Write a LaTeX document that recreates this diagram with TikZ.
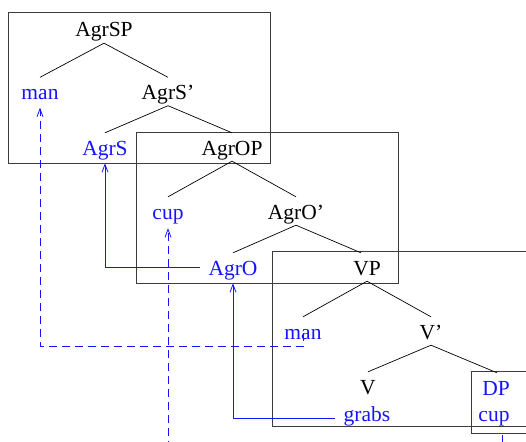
\documentclass[tikz,border=0pt]{standalone}
\usepackage{fontspec}
\setmainfont{Liberation Serif}
\usepackage{xcolor}
\usepackage{tikz}
\usetikzlibrary{arrows.meta,calc}
\definecolor{traceblue}{RGB}{20,20,255}
\definecolor{framegray}{RGB}{60,60,60}
\newcommand{\treefont}{\fontsize{21.5}{26}\selectfont}

\begin{document}
\begin{tikzpicture}[
  x=1pt,y=-1pt,
  cat/.style={inner sep=0pt,anchor=base,text height=22pt,text depth=6pt,
              font=\treefont},
  moved/.style={cat,text=traceblue},
  branch/.style={draw=black,line width=0.7pt},
  frame/.style={draw=framegray,line width=0.9pt},
  trace/.style={draw=traceblue,line width=0.8pt,
                -{Straight Barb[length=8pt,width=6pt]}},
  ghost/.style={trace,dash pattern=on 8pt off 5pt},
]

\useasboundingbox (0,0) rectangle (526,441);
\clip (0,0) rectangle (526,441);

%% ── Frames ──────────────────────────────────────────────────────────────
\draw[frame] (8,12)    rectangle (270,163);
\draw[frame] (136,132) rectangle (398,283);
\draw[frame] (272,251) rectangle (560,426.5);
\draw[frame] (471,371) rectangle (560,433.5);

%% ── AgrSP ───────────────────────────────────────────────────────────────
\node[cat]   (AgrSP)  at (104,37)   {AgrSP};
\node[moved] (manS)   at (40,99.5)  {man};
\node[cat]   (AgrSb)  at (168,99.5) {AgrS'};
\node[moved] (AgrS)   at (105,155)  {AgrS};

%% ── AgrOP ───────────────────────────────────────────────────────────────
\node[cat]   (AgrOP)  at (232,155)  {AgrOP};
\node[moved] (cupO)   at (168,219)  {cup};
\node[cat]   (AgrOb)  at (296,219)  {AgrO'};
\node[moved] (AgrO)   at (233,275)  {AgrO};

%% ── VP ──────────────────────────────────────────────────────────────────
\node[cat]   (VP)     at (367,275)  {VP};
\node[moved] (manV)   at (303,339)  {man};
\node[cat]   (Vb)     at (431,339)  {V'};
\node[cat]   (V)      at (368,394)  {V};
\node[moved] (DP)     at (496,395)  {DP};
\node[moved] (grabs)  at (367,421)  {grabs};
\node[moved] (cupV)   at (494,421)  {cup};

%% ── Branches ────────────────────────────────────────────────────────────
\draw[branch] (manS.north) -- (AgrSP.south) -- (AgrSb.north);
\draw[branch] (AgrS.north) -- (AgrSb.south) -- (AgrOP.north);
\draw[branch] (cupO.north) -- (AgrOP.south) -- (AgrOb.north);
\draw[branch] (AgrO.north) -- (AgrOb.south) -- ([xshift=-6pt]VP.north);
\draw[branch] (manV.north) -- (VP.south)    -- (Vb.north);
\draw[branch] (V.north)    -- (Vb.south)    -- ([xshift=1pt]DP.north);

%% ── Movement traces ─────────────────────────────────────────────────────
\coordinate (manturn) at (40,346.5);
\coordinate (cupturn) at (168,470);

\draw[ghost] ([yshift=6pt]manV.base) |- (manturn)
  -- ([yshift=-2pt]manS.south);

\draw[trace] ([xshift=-8pt]AgrO.west) -| ([yshift=-2pt]AgrS.south);

\draw[trace] ([xshift=-9pt,yshift=-5pt]grabs.west)
  -| ([yshift=-2pt]AgrO.south);

\draw[ghost] ([xshift=8pt,yshift=-8pt]cupV.south) |- (cupturn)
  -- ([yshift=-3pt]cupO.south);

\end{tikzpicture}
\end{document}
